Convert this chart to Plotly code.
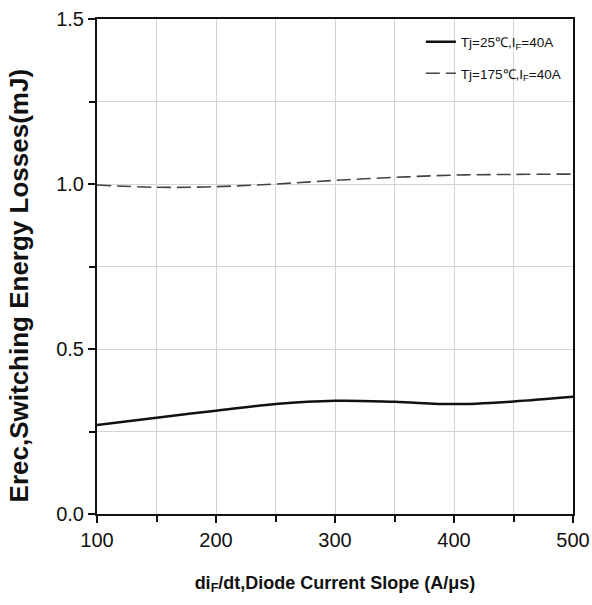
import plotly.graph_objects as go

# di/dt sweep (A/us)
slope = [100, 150, 200, 250, 300, 350, 400, 450, 500]
# reverse-recovery energy (mJ)
erec_25c = [0.27, 0.292, 0.313, 0.333, 0.343, 0.340, 0.333, 0.341, 0.355]
erec_175c = [0.997, 0.99, 0.992, 1.0, 1.011, 1.02, 1.027, 1.029, 1.03]

x_ticks = [100, 200, 300, 400, 500]
y_ticks = [0.0, 0.5, 1.0, 1.5]
y_tick_labels = ["0.0", "0.5", "1.0", "1.5"]

fig = go.Figure()
fig.add_trace(go.Scatter(
    x=slope, y=erec_25c, mode="lines", line_shape="spline",
    name="Tj=25℃,I<sub>F</sub>=40A", legendgroup="t25",
    line=dict(color="#111111", width=2.5),
))
fig.add_trace(go.Scatter(
    x=slope, y=erec_175c, mode="lines", line_shape="spline",
    name="Tj=175℃,I<sub>F</sub>=40A", legendgroup="t175",
    line=dict(color="#444444", width=1.6, dash="14px,6px"),
))

axis_common = dict(
    showline=True, linecolor="#111111", linewidth=2, mirror=True,
    ticks="outside", ticklen=7, tickwidth=1.5, tickcolor="#111111",
    showgrid=True, gridcolor="#d4d4d4", gridwidth=1,
    zeroline=False, automargin=False,
    tickfont=dict(family="Liberation Sans, Arial, sans-serif", size=20, color="#111111"),
)

fig.update_layout(
    width=592, height=605,
    margin=dict(l=97, r=19, t=19, b=91),
    paper_bgcolor="white", plot_bgcolor="white",
    font=dict(family="Liberation Sans, Arial, sans-serif", color="#111111"),
    showlegend=True,
    legend=dict(
        x=0.985, y=0.985, xanchor="right", yanchor="top",
        bgcolor="rgba(255,255,255,0)", borderwidth=0,
        font=dict(size=13.5, color="#111111"),
        tracegroupgap=11, itemwidth=30,
    ),
    xaxis=dict(
        range=[100, 500], tickvals=x_ticks,
        minor=dict(ticks="outside", ticklen=6, tickwidth=1.5, tickcolor="#111111",
                   dtick=50, showgrid=True, gridcolor="#d4d4d4", gridwidth=1),
        title=dict(text="<b>di<sub>F</sub>/dt,Diode Current Slope (A/μs)</b>",
                   font=dict(size=18), standoff=26),
        **axis_common,
    ),
    yaxis=dict(
        range=[0, 1.5], tickvals=y_ticks, ticktext=y_tick_labels,
        minor=dict(ticks="outside", ticklen=6, tickwidth=1.5, tickcolor="#111111",
                   dtick=0.25, showgrid=True, gridcolor="#d4d4d4", gridwidth=1),
        **axis_common,
    ),
    annotations=[dict(
        text="<b>Erec,Switching Energy Losses(mJ)</b>",
        textangle=-90, font=dict(size=26, color="#111111"),
        xref="paper", yref="paper", x=-0.163, y=0.4606,
        xanchor="center", yanchor="middle", showarrow=False,
    )],
)

fig.write_html("out.html")
